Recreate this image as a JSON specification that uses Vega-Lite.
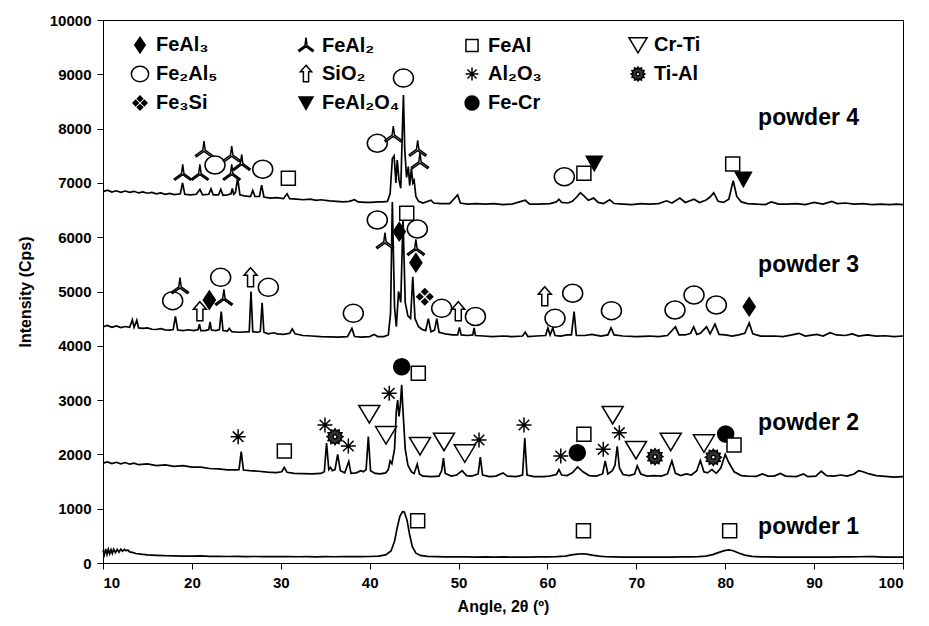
{
"$schema": "https://vega.github.io/schema/vega-lite/v6.json",
"width": 800,
"height": 543,
"autosize": "none",
"padding": {"left": 103, "top": 20, "right": 26, "bottom": 63},
"background": "white",
"config": {
  "view": {"stroke": "black", "strokeWidth": 1},
  "font": "Liberation Sans",
  "axis": {"domainColor": "black", "tickColor": "black", "labelColor": "black", "titleColor": "black", "labelFont": "Liberation Sans", "labelFontWeight": "bold", "labelFontSize": 15, "titleFont": "Liberation Sans", "titleFontWeight": "bold", "titleFontSize": 16, "grid": false, "tickSize": 6, "labelPadding": 6},
  "legend": {"title": null, "orient": "top-left", "columns": 4, "direction": "horizontal", "offset": 15, "padding": 0,
          "symbolOffset": 12, "symbolSize": 300, "symbolStrokeWidth": 1.5, "symbolStrokeColor": "black",
          "labelFont": "Liberation Sans", "labelFontWeight": "bold", "labelFontSize": 20, "labelColor": "black",
          "labelOffset": 6, "rowPadding": 6, "columnPadding": 50, "gridAlign": "all", "labelLimit": 300}
},
"datasets": {
  "scans": [
    {"s":"1","angle":10,"cps":230},{"s":"1","angle":10.15,"cps":150},{"s":"1","angle":10.3,"cps":260},{"s":"1","angle":10.45,"cps":160},{"s":"1","angle":10.6,"cps":250},{"s":"1","angle":10.75,"cps":170},{"s":"1","angle":10.9,"cps":245},{"s":"1","angle":11.05,"cps":175},{"s":"1","angle":11.2,"cps":255},{"s":"1","angle":11.4,"cps":190},{"s":"1","angle":11.6,"cps":250},{"s":"1","angle":11.8,"cps":200},{"s":"1","angle":12.0,"cps":255},{"s":"1","angle":12.2,"cps":215},{"s":"1","angle":12.4,"cps":250},{"s":"1","angle":12.6,"cps":225},{"s":"1","angle":12.8,"cps":240},{"s":"1","angle":13.0,"cps":205},{"s":"1","angle":13.3,"cps":195},{"s":"1","angle":13.7,"cps":175},{"s":"1","angle":14.2,"cps":165},{"s":"1","angle":15,"cps":150},{"s":"1","angle":16,"cps":142},{"s":"1","angle":17,"cps":135},{"s":"1","angle":18,"cps":132},{"s":"1","angle":19,"cps":128},{"s":"1","angle":20,"cps":126},{"s":"1","angle":21,"cps":130},{"s":"1","angle":22,"cps":122},{"s":"1","angle":23,"cps":124},{"s":"1","angle":24,"cps":120},{"s":"1","angle":25,"cps":122},{"s":"1","angle":26,"cps":118},{"s":"1","angle":27,"cps":120},{"s":"1","angle":28,"cps":117},{"s":"1","angle":29,"cps":119},{"s":"1","angle":30,"cps":116},{"s":"1","angle":31,"cps":118},{"s":"1","angle":32,"cps":115},{"s":"1","angle":33,"cps":117},{"s":"1","angle":34,"cps":114},{"s":"1","angle":35,"cps":116},{"s":"1","angle":36,"cps":115},{"s":"1","angle":37,"cps":117},{"s":"1","angle":38,"cps":116},{"s":"1","angle":39,"cps":118},{"s":"1","angle":40,"cps":120},{"s":"1","angle":41,"cps":128},{"s":"1","angle":41.8,"cps":150},{"s":"1","angle":42.4,"cps":220},{"s":"1","angle":42.8,"cps":400},{"s":"1","angle":43.1,"cps":650},{"s":"1","angle":43.4,"cps":860},{"s":"1","angle":43.7,"cps":945},{"s":"1","angle":43.9,"cps":940},{"s":"1","angle":44.2,"cps":790},{"s":"1","angle":44.5,"cps":520},{"s":"1","angle":44.8,"cps":300},{"s":"1","angle":45.2,"cps":180},{"s":"1","angle":45.7,"cps":140},{"s":"1","angle":46.5,"cps":122},{"s":"1","angle":47.5,"cps":116},{"s":"1","angle":48.5,"cps":113},{"s":"1","angle":50,"cps":112},{"s":"1","angle":51,"cps":114},{"s":"1","angle":52,"cps":110},{"s":"1","angle":53,"cps":112},{"s":"1","angle":54,"cps":109},{"s":"1","angle":55,"cps":111},{"s":"1","angle":56,"cps":108},{"s":"1","angle":57,"cps":110},{"s":"1","angle":58,"cps":109},{"s":"1","angle":59,"cps":111},{"s":"1","angle":60,"cps":113},{"s":"1","angle":61,"cps":116},{"s":"1","angle":62,"cps":128},{"s":"1","angle":62.7,"cps":150},{"s":"1","angle":63.4,"cps":165},{"s":"1","angle":63.9,"cps":170},{"s":"1","angle":64.4,"cps":162},{"s":"1","angle":65,"cps":145},{"s":"1","angle":65.8,"cps":125},{"s":"1","angle":66.6,"cps":115},{"s":"1","angle":67.5,"cps":112},{"s":"1","angle":68.5,"cps":110},{"s":"1","angle":70,"cps":108},{"s":"1","angle":71,"cps":110},{"s":"1","angle":72,"cps":107},{"s":"1","angle":73,"cps":109},{"s":"1","angle":74,"cps":110},{"s":"1","angle":75,"cps":112},{"s":"1","angle":76,"cps":111},{"s":"1","angle":77,"cps":116},{"s":"1","angle":77.8,"cps":128},{"s":"1","angle":78.6,"cps":155},{"s":"1","angle":79.3,"cps":195},{"s":"1","angle":79.9,"cps":228},{"s":"1","angle":80.4,"cps":240},{"s":"1","angle":80.9,"cps":225},{"s":"1","angle":81.5,"cps":185},{"s":"1","angle":82.2,"cps":145},{"s":"1","angle":83,"cps":122},{"s":"1","angle":84,"cps":113},{"s":"1","angle":85,"cps":111},{"s":"1","angle":86,"cps":110},{"s":"1","angle":87,"cps":109},{"s":"1","angle":88,"cps":108},{"s":"1","angle":89,"cps":110},{"s":"1","angle":90,"cps":108},{"s":"1","angle":91,"cps":110},{"s":"1","angle":92,"cps":109},{"s":"1","angle":93,"cps":111},{"s":"1","angle":94,"cps":113},{"s":"1","angle":95,"cps":115},{"s":"1","angle":96,"cps":120},{"s":"1","angle":96.6,"cps":118},{"s":"1","angle":97.3,"cps":113},{"s":"1","angle":98,"cps":110},{"s":"1","angle":99,"cps":108},{"s":"1","angle":100,"cps":107},

    {"s":"2","angle":10,"cps":1840},{"s":"2","angle":10.5,"cps":1860},{"s":"2","angle":11,"cps":1830},{"s":"2","angle":11.5,"cps":1855},{"s":"2","angle":12,"cps":1825},{"s":"2","angle":12.5,"cps":1850},{"s":"2","angle":13,"cps":1820},{"s":"2","angle":13.5,"cps":1840},{"s":"2","angle":14,"cps":1810},{"s":"2","angle":15,"cps":1825},{"s":"2","angle":16,"cps":1795},{"s":"2","angle":17,"cps":1808},{"s":"2","angle":18,"cps":1780},{"s":"2","angle":19,"cps":1792},{"s":"2","angle":20,"cps":1765},{"s":"2","angle":21,"cps":1765},{"s":"2","angle":22,"cps":1740},{"s":"2","angle":23,"cps":1735},{"s":"2","angle":24,"cps":1715},{"s":"2","angle":24.8,"cps":1715},{"s":"2","angle":25.3,"cps":1720},{"s":"2","angle":25.55,"cps":2050},{"s":"2","angle":25.8,"cps":1712},{"s":"2","angle":26.5,"cps":1700},{"s":"2","angle":27.5,"cps":1690},{"s":"2","angle":28.5,"cps":1675},{"s":"2","angle":29.5,"cps":1665},{"s":"2","angle":30.1,"cps":1680},{"s":"2","angle":30.4,"cps":1760},{"s":"2","angle":30.7,"cps":1670},{"s":"2","angle":31.5,"cps":1650},{"s":"2","angle":32.5,"cps":1645},{"s":"2","angle":33.5,"cps":1640},{"s":"2","angle":34.5,"cps":1650},{"s":"2","angle":34.9,"cps":1680},{"s":"2","angle":35.15,"cps":2210},{"s":"2","angle":35.4,"cps":1720},{"s":"2","angle":35.6,"cps":1760},{"s":"2","angle":35.8,"cps":1700},{"s":"2","angle":36.1,"cps":1720},{"s":"2","angle":36.4,"cps":2000},{"s":"2","angle":36.7,"cps":1700},{"s":"2","angle":37.2,"cps":1660},{"s":"2","angle":37.65,"cps":1870},{"s":"2","angle":37.9,"cps":1650},{"s":"2","angle":38.5,"cps":1660},{"s":"2","angle":39.0,"cps":1700},{"s":"2","angle":39.3,"cps":1680},{"s":"2","angle":39.6,"cps":1720},{"s":"2","angle":39.85,"cps":2330},{"s":"2","angle":40.1,"cps":1700},{"s":"2","angle":40.6,"cps":1650},{"s":"2","angle":41.2,"cps":1640},{"s":"2","angle":41.8,"cps":1660},{"s":"2","angle":42.1,"cps":1720},{"s":"2","angle":42.3,"cps":1880},{"s":"2","angle":42.5,"cps":1830},{"s":"2","angle":42.8,"cps":2100},{"s":"2","angle":43.0,"cps":2800},{"s":"2","angle":43.15,"cps":3000},{"s":"2","angle":43.3,"cps":2700},{"s":"2","angle":43.45,"cps":2900},{"s":"2","angle":43.6,"cps":3280},{"s":"2","angle":43.75,"cps":2800},{"s":"2","angle":44.0,"cps":2100},{"s":"2","angle":44.3,"cps":1800},{"s":"2","angle":44.7,"cps":1680},{"s":"2","angle":45.0,"cps":1650},{"s":"2","angle":45.35,"cps":1820},{"s":"2","angle":45.6,"cps":1640},{"s":"2","angle":46,"cps":1600},{"s":"2","angle":47,"cps":1590},{"s":"2","angle":47.8,"cps":1600},{"s":"2","angle":48.1,"cps":1700},{"s":"2","angle":48.3,"cps":1930},{"s":"2","angle":48.5,"cps":1650},{"s":"2","angle":49.2,"cps":1600},{"s":"2","angle":49.8,"cps":1620},{"s":"2","angle":50.4,"cps":1700},{"s":"2","angle":50.9,"cps":1610},{"s":"2","angle":51.5,"cps":1600},{"s":"2","angle":52.2,"cps":1640},{"s":"2","angle":52.45,"cps":1950},{"s":"2","angle":52.7,"cps":1620},{"s":"2","angle":53.5,"cps":1590},{"s":"2","angle":54.2,"cps":1600},{"s":"2","angle":55.0,"cps":1660},{"s":"2","angle":55.5,"cps":1600},{"s":"2","angle":56.5,"cps":1590},{"s":"2","angle":57.2,"cps":1620},{"s":"2","angle":57.45,"cps":2300},{"s":"2","angle":57.7,"cps":1620},{"s":"2","angle":58.5,"cps":1590},{"s":"2","angle":59.5,"cps":1590},{"s":"2","angle":60.2,"cps":1600},{"s":"2","angle":61.0,"cps":1630},{"s":"2","angle":61.3,"cps":1720},{"s":"2","angle":61.6,"cps":1620},{"s":"2","angle":62.2,"cps":1610},{"s":"2","angle":62.8,"cps":1660},{"s":"2","angle":63.4,"cps":1770},{"s":"2","angle":64.0,"cps":1680},{"s":"2","angle":64.7,"cps":1610},{"s":"2","angle":65.5,"cps":1600},{"s":"2","angle":66.2,"cps":1640},{"s":"2","angle":66.5,"cps":1880},{"s":"2","angle":66.8,"cps":1640},{"s":"2","angle":67.3,"cps":1700},{"s":"2","angle":67.6,"cps":1800},{"s":"2","angle":67.85,"cps":2150},{"s":"2","angle":68.1,"cps":1750},{"s":"2","angle":68.5,"cps":1630},{"s":"2","angle":69.2,"cps":1610},{"s":"2","angle":69.8,"cps":1640},{"s":"2","angle":70.1,"cps":1790},{"s":"2","angle":70.5,"cps":1640},{"s":"2","angle":71.2,"cps":1600},{"s":"2","angle":72,"cps":1610},{"s":"2","angle":72.8,"cps":1600},{"s":"2","angle":73.5,"cps":1640},{"s":"2","angle":74.0,"cps":1880},{"s":"2","angle":74.4,"cps":1650},{"s":"2","angle":75.0,"cps":1610},{"s":"2","angle":75.6,"cps":1640},{"s":"2","angle":76.2,"cps":1620},{"s":"2","angle":76.8,"cps":1700},{"s":"2","angle":77.2,"cps":1890},{"s":"2","angle":77.6,"cps":1680},{"s":"2","angle":78.0,"cps":1660},{"s":"2","angle":78.5,"cps":1720},{"s":"2","angle":79.0,"cps":1650},{"s":"2","angle":79.5,"cps":1750},{"s":"2","angle":80.0,"cps":2000},{"s":"2","angle":80.4,"cps":1850},{"s":"2","angle":81.0,"cps":1680},{"s":"2","angle":81.8,"cps":1610},{"s":"2","angle":82.5,"cps":1600},{"s":"2","angle":83.5,"cps":1595},{"s":"2","angle":84.2,"cps":1640},{"s":"2","angle":84.8,"cps":1600},{"s":"2","angle":85.5,"cps":1600},{"s":"2","angle":86.2,"cps":1650},{"s":"2","angle":86.8,"cps":1600},{"s":"2","angle":88,"cps":1590},{"s":"2","angle":88.8,"cps":1640},{"s":"2","angle":89.3,"cps":1590},{"s":"2","angle":90.2,"cps":1600},{"s":"2","angle":90.8,"cps":1690},{"s":"2","angle":91.4,"cps":1610},{"s":"2","angle":92.2,"cps":1600},{"s":"2","angle":93,"cps":1620},{"s":"2","angle":93.7,"cps":1600},{"s":"2","angle":94.5,"cps":1640},{"s":"2","angle":95.0,"cps":1700},{"s":"2","angle":95.5,"cps":1680},{"s":"2","angle":96.2,"cps":1640},{"s":"2","angle":97,"cps":1610},{"s":"2","angle":98,"cps":1595},{"s":"2","angle":99,"cps":1580},{"s":"2","angle":100,"cps":1590},

    {"s":"3","angle":10,"cps":4350},{"s":"3","angle":10.5,"cps":4375},{"s":"3","angle":11,"cps":4340},{"s":"3","angle":11.5,"cps":4365},{"s":"3","angle":12,"cps":4335},{"s":"3","angle":12.5,"cps":4355},{"s":"3","angle":13.0,"cps":4340},{"s":"3","angle":13.3,"cps":4480},{"s":"3","angle":13.5,"cps":4340},{"s":"3","angle":13.8,"cps":4470},{"s":"3","angle":14.0,"cps":4330},{"s":"3","angle":14.5,"cps":4320},{"s":"3","angle":15,"cps":4330},{"s":"3","angle":15.5,"cps":4305},{"s":"3","angle":16,"cps":4300},{"s":"3","angle":16.5,"cps":4315},{"s":"3","angle":17,"cps":4295},{"s":"3","angle":17.5,"cps":4290},{"s":"3","angle":17.9,"cps":4300},{"s":"3","angle":18.15,"cps":4540},{"s":"3","angle":18.4,"cps":4290},{"s":"3","angle":19,"cps":4280},{"s":"3","angle":19.6,"cps":4295},{"s":"3","angle":20.2,"cps":4280},{"s":"3","angle":20.7,"cps":4300},{"s":"3","angle":20.85,"cps":4400},{"s":"3","angle":21.0,"cps":4280},{"s":"3","angle":21.5,"cps":4280},{"s":"3","angle":21.9,"cps":4300},{"s":"3","angle":22.05,"cps":4440},{"s":"3","angle":22.2,"cps":4290},{"s":"3","angle":22.7,"cps":4280},{"s":"3","angle":23.1,"cps":4300},{"s":"3","angle":23.3,"cps":4630},{"s":"3","angle":23.5,"cps":4280},{"s":"3","angle":24.0,"cps":4270},{"s":"3","angle":24.2,"cps":4320},{"s":"3","angle":24.5,"cps":4260},{"s":"3","angle":25.2,"cps":4250},{"s":"3","angle":26.0,"cps":4255},{"s":"3","angle":26.45,"cps":4260},{"s":"3","angle":26.65,"cps":5000},{"s":"3","angle":26.85,"cps":4260},{"s":"3","angle":27.5,"cps":4250},{"s":"3","angle":27.7,"cps":4270},{"s":"3","angle":27.9,"cps":4790},{"s":"3","angle":28.1,"cps":4250},{"s":"3","angle":28.6,"cps":4220},{"s":"3","angle":29.2,"cps":4240},{"s":"3","angle":29.6,"cps":4220},{"s":"3","angle":30.3,"cps":4210},{"s":"3","angle":31.0,"cps":4230},{"s":"3","angle":31.3,"cps":4310},{"s":"3","angle":31.6,"cps":4220},{"s":"3","angle":32.5,"cps":4190},{"s":"3","angle":33.5,"cps":4180},{"s":"3","angle":34.5,"cps":4170},{"s":"3","angle":35.5,"cps":4165},{"s":"3","angle":36.5,"cps":4160},{"s":"3","angle":37.5,"cps":4170},{"s":"3","angle":38.0,"cps":4320},{"s":"3","angle":38.3,"cps":4170},{"s":"3","angle":39,"cps":4160},{"s":"3","angle":40,"cps":4170},{"s":"3","angle":40.5,"cps":4210},{"s":"3","angle":40.9,"cps":4170},{"s":"3","angle":41.6,"cps":4170},{"s":"3","angle":42.1,"cps":4200},{"s":"3","angle":42.35,"cps":4600},{"s":"3","angle":42.55,"cps":6650},{"s":"3","angle":42.8,"cps":4700},{"s":"3","angle":43.0,"cps":4350},{"s":"3","angle":43.25,"cps":5000},{"s":"3","angle":43.5,"cps":4800},{"s":"3","angle":43.75,"cps":6350},{"s":"3","angle":44.0,"cps":4800},{"s":"3","angle":44.3,"cps":4550},{"s":"3","angle":44.6,"cps":4500},{"s":"3","angle":44.85,"cps":5270},{"s":"3","angle":45.1,"cps":4500},{"s":"3","angle":45.5,"cps":4350},{"s":"3","angle":45.9,"cps":4300},{"s":"3","angle":46.3,"cps":4280},{"s":"3","angle":46.6,"cps":4500},{"s":"3","angle":46.9,"cps":4260},{"s":"3","angle":47.3,"cps":4290},{"s":"3","angle":47.55,"cps":4500},{"s":"3","angle":47.8,"cps":4250},{"s":"3","angle":48.5,"cps":4220},{"s":"3","angle":49.3,"cps":4200},{"s":"3","angle":49.9,"cps":4200},{"s":"3","angle":50.1,"cps":4340},{"s":"3","angle":50.3,"cps":4200},{"s":"3","angle":51.0,"cps":4190},{"s":"3","angle":51.6,"cps":4200},{"s":"3","angle":51.75,"cps":4330},{"s":"3","angle":51.9,"cps":4190},{"s":"3","angle":52.8,"cps":4180},{"s":"3","angle":53.8,"cps":4170},{"s":"3","angle":55,"cps":4180},{"s":"3","angle":56,"cps":4170},{"s":"3","angle":57.2,"cps":4180},{"s":"3","angle":57.5,"cps":4250},{"s":"3","angle":57.8,"cps":4170},{"s":"3","angle":58.8,"cps":4180},{"s":"3","angle":59.8,"cps":4190},{"s":"3","angle":60.05,"cps":4330},{"s":"3","angle":60.3,"cps":4200},{"s":"3","angle":60.6,"cps":4330},{"s":"3","angle":60.85,"cps":4190},{"s":"3","angle":61.5,"cps":4180},{"s":"3","angle":62.2,"cps":4200},{"s":"3","angle":62.7,"cps":4200},{"s":"3","angle":63.0,"cps":4630},{"s":"3","angle":63.25,"cps":4190},{"s":"3","angle":64.2,"cps":4190},{"s":"3","angle":65.0,"cps":4210},{"s":"3","angle":66.0,"cps":4180},{"s":"3","angle":66.8,"cps":4200},{"s":"3","angle":67.15,"cps":4330},{"s":"3","angle":67.5,"cps":4200},{"s":"3","angle":68.5,"cps":4180},{"s":"3","angle":70,"cps":4170},{"s":"3","angle":71.5,"cps":4180},{"s":"3","angle":72.5,"cps":4170},{"s":"3","angle":73.5,"cps":4190},{"s":"3","angle":74.4,"cps":4350},{"s":"3","angle":74.8,"cps":4200},{"s":"3","angle":75.5,"cps":4200},{"s":"3","angle":76.1,"cps":4230},{"s":"3","angle":76.45,"cps":4350},{"s":"3","angle":76.8,"cps":4210},{"s":"3","angle":77.2,"cps":4230},{"s":"3","angle":77.9,"cps":4350},{"s":"3","angle":78.3,"cps":4220},{"s":"3","angle":78.85,"cps":4400},{"s":"3","angle":79.3,"cps":4210},{"s":"3","angle":80.0,"cps":4200},{"s":"3","angle":80.8,"cps":4180},{"s":"3","angle":81.5,"cps":4200},{"s":"3","angle":82.2,"cps":4230},{"s":"3","angle":82.7,"cps":4420},{"s":"3","angle":83.1,"cps":4220},{"s":"3","angle":84,"cps":4180},{"s":"3","angle":85.5,"cps":4180},{"s":"3","angle":86.5,"cps":4170},{"s":"3","angle":87.5,"cps":4200},{"s":"3","angle":88.3,"cps":4230},{"s":"3","angle":89,"cps":4180},{"s":"3","angle":90.3,"cps":4210},{"s":"3","angle":91,"cps":4180},{"s":"3","angle":91.8,"cps":4240},{"s":"3","angle":92.5,"cps":4200},{"s":"3","angle":93.5,"cps":4190},{"s":"3","angle":94.3,"cps":4220},{"s":"3","angle":95.0,"cps":4180},{"s":"3","angle":96,"cps":4200},{"s":"3","angle":97,"cps":4180},{"s":"3","angle":98,"cps":4185},{"s":"3","angle":99,"cps":4170},{"s":"3","angle":100,"cps":4180},

    {"s":"4","angle":10,"cps":6840},{"s":"4","angle":10.5,"cps":6865},{"s":"4","angle":11,"cps":6830},{"s":"4","angle":11.5,"cps":6855},{"s":"4","angle":12,"cps":6825},{"s":"4","angle":12.5,"cps":6850},{"s":"4","angle":13,"cps":6825},{"s":"4","angle":13.5,"cps":6845},{"s":"4","angle":14,"cps":6815},{"s":"4","angle":14.5,"cps":6835},{"s":"4","angle":15,"cps":6810},{"s":"4","angle":15.5,"cps":6825},{"s":"4","angle":16,"cps":6800},{"s":"4","angle":16.5,"cps":6815},{"s":"4","angle":17,"cps":6790},{"s":"4","angle":17.5,"cps":6805},{"s":"4","angle":18,"cps":6785},{"s":"4","angle":18.7,"cps":6800},{"s":"4","angle":18.95,"cps":7000},{"s":"4","angle":19.2,"cps":6790},{"s":"4","angle":19.8,"cps":6780},{"s":"4","angle":20.5,"cps":6790},{"s":"4","angle":20.9,"cps":6880},{"s":"4","angle":21.2,"cps":6780},{"s":"4","angle":21.9,"cps":6790},{"s":"4","angle":22.15,"cps":6890},{"s":"4","angle":22.4,"cps":6780},{"s":"4","angle":23.0,"cps":6780},{"s":"4","angle":23.25,"cps":6880},{"s":"4","angle":23.5,"cps":6770},{"s":"4","angle":24.0,"cps":6780},{"s":"4","angle":24.4,"cps":6800},{"s":"4","angle":24.55,"cps":6900},{"s":"4","angle":24.7,"cps":6790},{"s":"4","angle":24.9,"cps":6820},{"s":"4","angle":25.15,"cps":7090},{"s":"4","angle":25.4,"cps":6780},{"s":"4","angle":25.9,"cps":6760},{"s":"4","angle":26.6,"cps":6750},{"s":"4","angle":26.85,"cps":6860},{"s":"4","angle":27.1,"cps":6750},{"s":"4","angle":27.6,"cps":6750},{"s":"4","angle":27.85,"cps":6960},{"s":"4","angle":28.1,"cps":6740},{"s":"4","angle":28.8,"cps":6720},{"s":"4","angle":29.5,"cps":6730},{"s":"4","angle":30.3,"cps":6710},{"s":"4","angle":30.7,"cps":6800},{"s":"4","angle":31.0,"cps":6710},{"s":"4","angle":31.8,"cps":6700},{"s":"4","angle":32.5,"cps":6690},{"s":"4","angle":33.3,"cps":6700},{"s":"4","angle":34,"cps":6680},{"s":"4","angle":34.5,"cps":6690},{"s":"4","angle":35.5,"cps":6670},{"s":"4","angle":36.3,"cps":6660},{"s":"4","angle":37,"cps":6650},{"s":"4","angle":37.7,"cps":6660},{"s":"4","angle":38.3,"cps":6690},{"s":"4","angle":38.7,"cps":6650},{"s":"4","angle":39.5,"cps":6640},{"s":"4","angle":40.2,"cps":6640},{"s":"4","angle":40.9,"cps":6650},{"s":"4","angle":41.5,"cps":6650},{"s":"4","angle":42.0,"cps":6660},{"s":"4","angle":42.3,"cps":6800},{"s":"4","angle":42.55,"cps":7450},{"s":"4","angle":42.75,"cps":7500},{"s":"4","angle":42.95,"cps":7000},{"s":"4","angle":43.1,"cps":7420},{"s":"4","angle":43.3,"cps":7050},{"s":"4","angle":43.5,"cps":6900},{"s":"4","angle":43.65,"cps":7800},{"s":"4","angle":43.8,"cps":8620},{"s":"4","angle":43.95,"cps":7600},{"s":"4","angle":44.15,"cps":7100},{"s":"4","angle":44.35,"cps":7300},{"s":"4","angle":44.5,"cps":6950},{"s":"4","angle":44.7,"cps":7270},{"s":"4","angle":44.85,"cps":7000},{"s":"4","angle":45.0,"cps":7050},{"s":"4","angle":45.2,"cps":6750},{"s":"4","angle":45.5,"cps":6660},{"s":"4","angle":46.0,"cps":6630},{"s":"4","angle":46.9,"cps":6680},{"s":"4","angle":47.2,"cps":6630},{"s":"4","angle":48,"cps":6620},{"s":"4","angle":49,"cps":6620},{"s":"4","angle":49.9,"cps":6780},{"s":"4","angle":50.2,"cps":6630},{"s":"4","angle":51,"cps":6610},{"s":"4","angle":52,"cps":6620},{"s":"4","angle":53,"cps":6610},{"s":"4","angle":54,"cps":6620},{"s":"4","angle":55,"cps":6600},{"s":"4","angle":56,"cps":6610},{"s":"4","angle":57.5,"cps":6680},{"s":"4","angle":58,"cps":6610},{"s":"4","angle":59,"cps":6610},{"s":"4","angle":60.3,"cps":6620},{"s":"4","angle":61.0,"cps":6650},{"s":"4","angle":61.3,"cps":6700},{"s":"4","angle":61.6,"cps":6640},{"s":"4","angle":62.3,"cps":6630},{"s":"4","angle":62.8,"cps":6660},{"s":"4","angle":63.3,"cps":6740},{"s":"4","angle":63.7,"cps":6820},{"s":"4","angle":64.1,"cps":6760},{"s":"4","angle":64.6,"cps":6680},{"s":"4","angle":65.2,"cps":6720},{"s":"4","angle":65.7,"cps":6640},{"s":"4","angle":66.3,"cps":6620},{"s":"4","angle":67.0,"cps":6690},{"s":"4","angle":67.5,"cps":6620},{"s":"4","angle":68.5,"cps":6610},{"s":"4","angle":69.5,"cps":6600},{"s":"4","angle":70.5,"cps":6620},{"s":"4","angle":71.5,"cps":6610},{"s":"4","angle":72.5,"cps":6620},{"s":"4","angle":73.4,"cps":6670},{"s":"4","angle":74.0,"cps":6630},{"s":"4","angle":74.9,"cps":6720},{"s":"4","angle":75.5,"cps":6640},{"s":"4","angle":76.5,"cps":6700},{"s":"4","angle":77.1,"cps":6640},{"s":"4","angle":77.8,"cps":6680},{"s":"4","angle":78.3,"cps":6740},{"s":"4","angle":78.7,"cps":6820},{"s":"4","angle":79.2,"cps":6660},{"s":"4","angle":79.8,"cps":6640},{"s":"4","angle":80.4,"cps":6700},{"s":"4","angle":80.9,"cps":7040},{"s":"4","angle":81.3,"cps":6750},{"s":"4","angle":81.8,"cps":6650},{"s":"4","angle":82.5,"cps":6620},{"s":"4","angle":83.5,"cps":6610},{"s":"4","angle":84.5,"cps":6600},{"s":"4","angle":85.2,"cps":6650},{"s":"4","angle":86,"cps":6610},{"s":"4","angle":87,"cps":6610},{"s":"4","angle":88,"cps":6620},{"s":"4","angle":89,"cps":6600},{"s":"4","angle":90,"cps":6640},{"s":"4","angle":91,"cps":6610},{"s":"4","angle":92,"cps":6660},{"s":"4","angle":92.6,"cps":6620},{"s":"4","angle":93.5,"cps":6630},{"s":"4","angle":94.5,"cps":6610},{"s":"4","angle":95.5,"cps":6620},{"s":"4","angle":96.5,"cps":6600},{"s":"4","angle":97.5,"cps":6610},{"s":"4","angle":98.5,"cps":6600},{"s":"4","angle":99.3,"cps":6610},{"s":"4","angle":100,"cps":6600}
  ],
  "markers": [
    {"phase":"FeAl₂","angle":18.97,"cps":7177},{"phase":"FeAl₂","angle":20.9,"cps":7177},{"phase":"FeAl₂","angle":21.36,"cps":7606},{"phase":"Fe₂Al₅","angle":22.6,"cps":7330},{"phase":"FeAl₂","angle":24.48,"cps":7514},{"phase":"FeAl₂","angle":24.48,"cps":7177},{"phase":"FeAl₂","angle":25.6,"cps":7361},{"phase":"Fe₂Al₅","angle":27.97,"cps":7251},{"phase":"FeAl","angle":30.85,"cps":7085},{"phase":"Fe₂Al₅","angle":40.86,"cps":7729},{"phase":"FeAl₂","angle":42.66,"cps":7882},{"phase":"Fe₂Al₅","angle":43.8,"cps":8930},{"phase":"FeAl₂","angle":45.4,"cps":7620},{"phase":"FeAl₂","angle":45.66,"cps":7390},{"phase":"Fe₂Al₅","angle":61.9,"cps":7114},{"phase":"FeAl","angle":64.1,"cps":7177},{"phase":"FeAl₂O₄","angle":65.27,"cps":7361},{"phase":"FeAl","angle":80.84,"cps":7348},{"phase":"FeAl₂O₄","angle":82.04,"cps":7066},
    {"phase":"Fe₂Al₅","angle":17.84,"cps":4831},{"phase":"FeAl₂","angle":18.66,"cps":5089},{"phase":"SiO₂","angle":20.9,"cps":4628},{"phase":"FeAl₃","angle":21.96,"cps":4843},{"phase":"Fe₂Al₅","angle":23.24,"cps":5261},{"phase":"FeAl₂","angle":23.6,"cps":4874},{"phase":"SiO₂","angle":26.6,"cps":5255},{"phase":"Fe₂Al₅","angle":28.6,"cps":5077},{"phase":"Fe₂Al₅","angle":38.16,"cps":4598},{"phase":"Fe₂Al₅","angle":40.86,"cps":6317},{"phase":"FeAl₂","angle":41.72,"cps":5917},{"phase":"FeAl₃","angle":43.33,"cps":6101},{"phase":"FeAl","angle":44.17,"cps":6440},{"phase":"Fe₂Al₅","angle":45.36,"cps":6151},{"phase":"FeAl₂","angle":45.2,"cps":5795},{"phase":"FeAl₃","angle":45.2,"cps":5530},{"phase":"Fe₃Si","angle":46.2,"cps":4904},{"phase":"Fe₂Al₅","angle":48.1,"cps":4690},{"phase":"SiO₂","angle":49.97,"cps":4628},{"phase":"Fe₂Al₅","angle":51.9,"cps":4540},{"phase":"SiO₂","angle":59.7,"cps":4904},{"phase":"Fe₂Al₅","angle":60.85,"cps":4506},{"phase":"Fe₂Al₅","angle":62.84,"cps":4967},{"phase":"Fe₂Al₅","angle":67.2,"cps":4647},{"phase":"Fe₂Al₅","angle":74.35,"cps":4659},{"phase":"Fe₂Al₅","angle":76.49,"cps":4936},{"phase":"Fe₂Al₅","angle":79.0,"cps":4751},{"phase":"FeAl₃","angle":82.7,"cps":4720},
    {"phase":"Al₂O₃","angle":25.2,"cps":2326},{"phase":"FeAl","angle":30.4,"cps":2063},{"phase":"Al₂O₃","angle":34.97,"cps":2541},{"phase":"Ti-Al","angle":36.1,"cps":2326},{"phase":"Al₂O₃","angle":37.6,"cps":2155},{"phase":"Cr-Ti","angle":39.96,"cps":2744},{"phase":"Cr-Ti","angle":41.84,"cps":2357},{"phase":"Al₂O₃","angle":42.2,"cps":3125},{"phase":"Fe-Cr","angle":43.6,"cps":3615},{"phase":"FeAl","angle":45.47,"cps":3493},{"phase":"Cr-Ti","angle":45.66,"cps":2155},{"phase":"Cr-Ti","angle":48.36,"cps":2234},{"phase":"Cr-Ti","angle":50.7,"cps":2020},{"phase":"Al₂O₃","angle":52.3,"cps":2265},{"phase":"Al₂O₃","angle":57.36,"cps":2541},{"phase":"Al₂O₃","angle":61.5,"cps":1970},{"phase":"Fe-Cr","angle":63.36,"cps":2032},{"phase":"FeAl","angle":64.1,"cps":2370},{"phase":"Al₂O₃","angle":66.28,"cps":2093},{"phase":"Cr-Ti","angle":67.34,"cps":2726},{"phase":"Al₂O₃","angle":68.09,"cps":2400},{"phase":"Cr-Ti","angle":69.96,"cps":2081},{"phase":"Ti-Al","angle":72.1,"cps":1958},{"phase":"Cr-Ti","angle":73.87,"cps":2234},{"phase":"Cr-Ti","angle":77.61,"cps":2204},{"phase":"Ti-Al","angle":78.66,"cps":1946},{"phase":"Fe-Cr","angle":80.05,"cps":2376},{"phase":"FeAl","angle":80.99,"cps":2173},
    {"phase":"FeAl","angle":45.4,"cps":780},{"phase":"FeAl","angle":64.05,"cps":595},{"phase":"FeAl","angle":80.5,"cps":595}
  ],
  "labels": [
    {"label":"powder 4","angle":83.7,"cps":8195},
    {"label":"powder 3","angle":83.7,"cps":5488},
    {"label":"powder 2","angle":83.7,"cps":2578},
    {"label":"powder 1","angle":83.7,"cps":663}
  ]
},
"encoding": {
  "x": {"field": "angle", "type": "quantitative", "scale": {"domain": [10, 100], "nice": false, "zero": false},
        "axis": {"values": [10,20,30,40,50,60,70,80,90,100], "title": "Angle, 2θ (º)", "titlePadding": 8}},
  "y": {"field": "cps", "type": "quantitative", "scale": {"domain": [0, 10000], "nice": false},
        "axis": {"values": [0,1000,2000,3000,4000,5000,6000,7000,8000,9000,10000], "format": "d", "title": "Intensity (Cps)", "titlePadding": 16}}
},
"layer": [
  {
    "data": {"name": "scans"},
    "mark": {"type": "line", "color": "black", "strokeWidth": 1.7},
    "encoding": {"detail": {"field": "s", "type": "nominal"}}
  },
  {
    "data": {"name": "markers"},
    "mark": {"type": "point", "size": 400, "strokeWidth": 1.5, "opacity": 1, "filled": true},
    "encoding": {
      "shape": {"field": "phase", "type": "nominal",
        "scale": {"domain": ["FeAl₃","FeAl₂","FeAl","Cr-Ti","Fe₂Al₅","SiO₂","Al₂O₃","Ti-Al","Fe₃Si","FeAl₂O₄","Fe-Cr"],
          "range": [
            "M0,-0.9L0.6,0L0,0.9L-0.6,0Z",
            "M-0.12,0.02L0,-0.9L0.12,0.02L0.85,0.55L0.75,0.68L0,0.14L-0.75,0.68L-0.85,0.55Z",
            "M-0.7,-0.7L0.7,-0.7L0.7,0.7L-0.7,0.7Z",
            "M-1.05,-0.85L1.05,-0.85L0,0.9Z",
            "M-1,0A1,0.9 0 1,1 1,0A1,0.9 0 1,1 -1,0Z",
            "M0,-1L0.65,-0.25L0.3,-0.25L0.3,0.9L-0.3,0.9L-0.3,-0.25L-0.65,-0.25Z",
            "M0,-0.75L0,0.75M-0.75,0L0.75,0M-0.53,-0.53L0.53,0.53M-0.53,0.53L0.53,-0.53",
            "M0.8,0L0.58,0.155L0.693,0.4L0.424,0.424L0.4,0.693L0.155,0.58L0,0.8L-0.155,0.58L-0.4,0.693L-0.424,0.424L-0.693,0.4L-0.58,0.155L-0.8,0L-0.58,-0.155L-0.693,-0.4L-0.424,-0.424L-0.4,-0.693L-0.155,-0.58L0,-0.8L0.155,-0.58L0.4,-0.693L0.424,-0.424L0.693,-0.4L0.58,-0.155ZM0.2,0A0.2,0.2 0 1,0 -0.2,0A0.2,0.2 0 1,0 0.2,0Z",
            "M0,-0.8L0.3,-0.5L0,-0.2L-0.3,-0.5ZM0.5,-0.3L0.8,0L0.5,0.3L0.2,0ZM0,0.2L0.3,0.5L0,0.8L-0.3,0.5ZM-0.5,-0.3L-0.2,0L-0.5,0.3L-0.8,0Z",
            "M-0.8,-0.7L0.8,-0.7L0,0.75Z",
            "M-0.8,0A0.8,0.8 0 1,1 0.8,0A0.8,0.8 0 1,1 -0.8,0Z"
          ]}},
      "fill": {"field": "phase", "type": "nominal",
        "scale": {"domain": ["FeAl₃","FeAl₂","FeAl","Cr-Ti","Fe₂Al₅","SiO₂","Al₂O₃","Ti-Al","Fe₃Si","FeAl₂O₄","Fe-Cr"],
          "range": ["black","white","white","white","white","white","black","#333333","black","black","black"]}},
      "stroke": {"field": "phase", "type": "nominal",
        "scale": {"domain": ["FeAl₃","FeAl₂","FeAl","Cr-Ti","Fe₂Al₅","SiO₂","Al₂O₃","Ti-Al","Fe₃Si","FeAl₂O₄","Fe-Cr"],
          "range": ["black","black","black","black","black","black","black","black","black","black","black"]}}
    }
  },
  {
    "data": {"name": "labels"},
    "mark": {"type": "text", "align": "left", "baseline": "middle", "font": "Liberation Sans", "fontSize": 23, "fontWeight": "bold", "color": "black"},
    "encoding": {"text": {"field": "label", "type": "nominal"}}
  }
]
}
